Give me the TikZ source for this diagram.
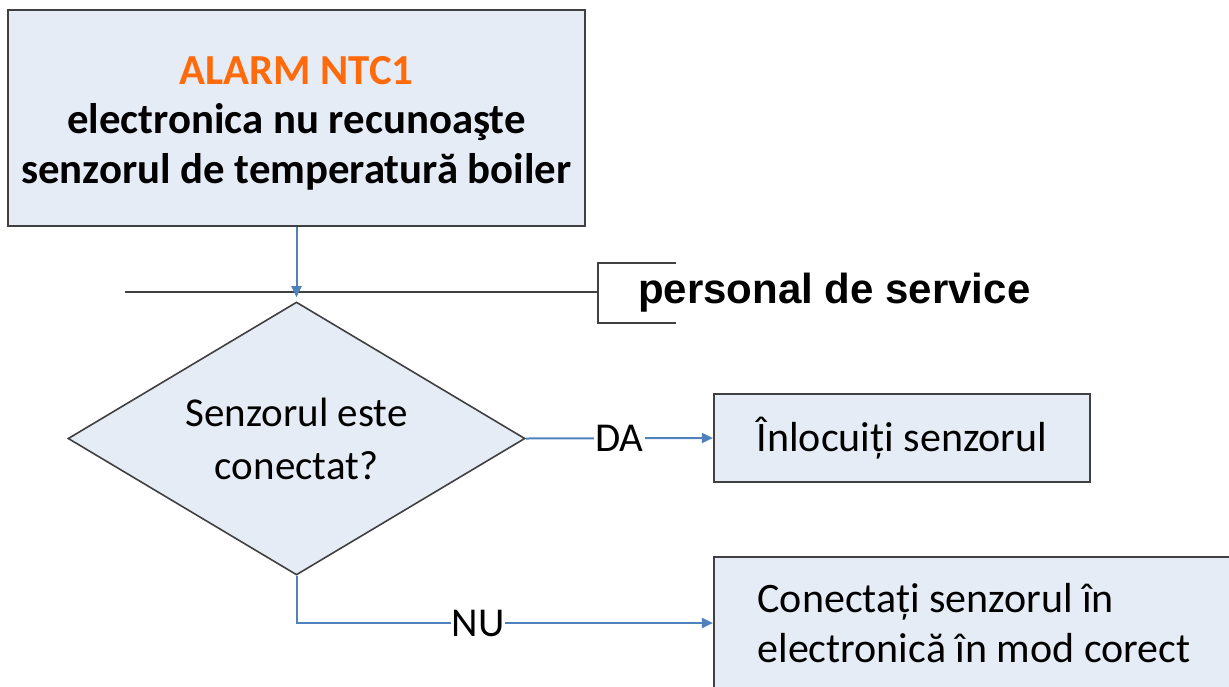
\documentclass[tikz,border=0pt]{standalone}
\usepackage{fontspec}
\setmainfont{Carlito}
\newfontfamily\arialfont{Liberation Sans}
\usetikzlibrary{shapes.geometric,arrows.meta}
\definecolor{boxfill}{RGB}{230,236,246}
\definecolor{boxline}{RGB}{64,64,64}
\definecolor{flow}{RGB}{79,129,189}
\definecolor{alarmc}{RGB}{255,106,10}
\begin{document}
\begin{tikzpicture}[x=1pt,y=-1pt,
  box/.style={draw=boxline,fill=boxfill,line width=2.2pt,inner sep=0pt},
  flowline/.style={draw=flow,line width=2pt},
  flowarrow/.style={flowline,-{Triangle[length=11pt,width=10pt]}},
  lbl/.style={fill=white,inner sep=1pt,font=\fontsize{41}{50}\selectfont},
  plain/.style={draw=boxline,line width=1.6pt}]
\useasboundingbox (0,0) rectangle (1229,686);
\node[box, minimum width=577pt, minimum height=216pt] (alarm) at (296.5,118) {};
\node[align=center, inner sep=0pt, font=\bfseries\fontsize{42.8}{49.5}\selectfont] (alarmtxt) at (296.5,123)
  {\textcolor{alarmc}{ALARM NTC1}\\electronica nu recunoaşte\\senzorul de temperatură boiler};
\node[diamond, box, line width=1.6pt, shape aspect=1.674, minimum width=457pt, minimum height=273pt, align=center,
      font=\fontsize{41}{53}\selectfont] (q) at (296.5,438.5) {Senzorul este\\conectat?};
\coordinate (hl) at (125,292);
\coordinate (hr) at (598,292);
\coordinate (bt) at (676,263);
\coordinate (btl) at (598,263);
\coordinate (bbl) at (598,323);
\coordinate (bb) at (676,323);
\draw[plain] (hl) -- (hr);
\draw[plain] (bt) -- (btl) -- (bbl) -- (bb);
\node[anchor=west, inner sep=0pt, font=\arialfont\bfseries\fontsize{42}{50}\selectfont] (svc) at (638,293) {personal de service};
\node[box, minimum width=376pt, minimum height=88pt, font=\fontsize{42}{50}\selectfont] (repl) at (902,438) {Înlocuiți senzorul};
\node[box, minimum width=520pt, minimum height=132pt, align=left, font=\fontsize{42}{50}\selectfont] (conn) at (974,623) {Conectați senzorul în\\electronică în mod corect};
\draw[flowarrow, shorten >=4pt] (alarm.south) -- (q.north);
\draw[flowarrow] (q.east) -- node[lbl]{DA} (repl.west);
\draw[flowarrow] (q.south) |- node[lbl, pos=0.718]{NU} (conn.west);
\end{tikzpicture}
\end{document}
